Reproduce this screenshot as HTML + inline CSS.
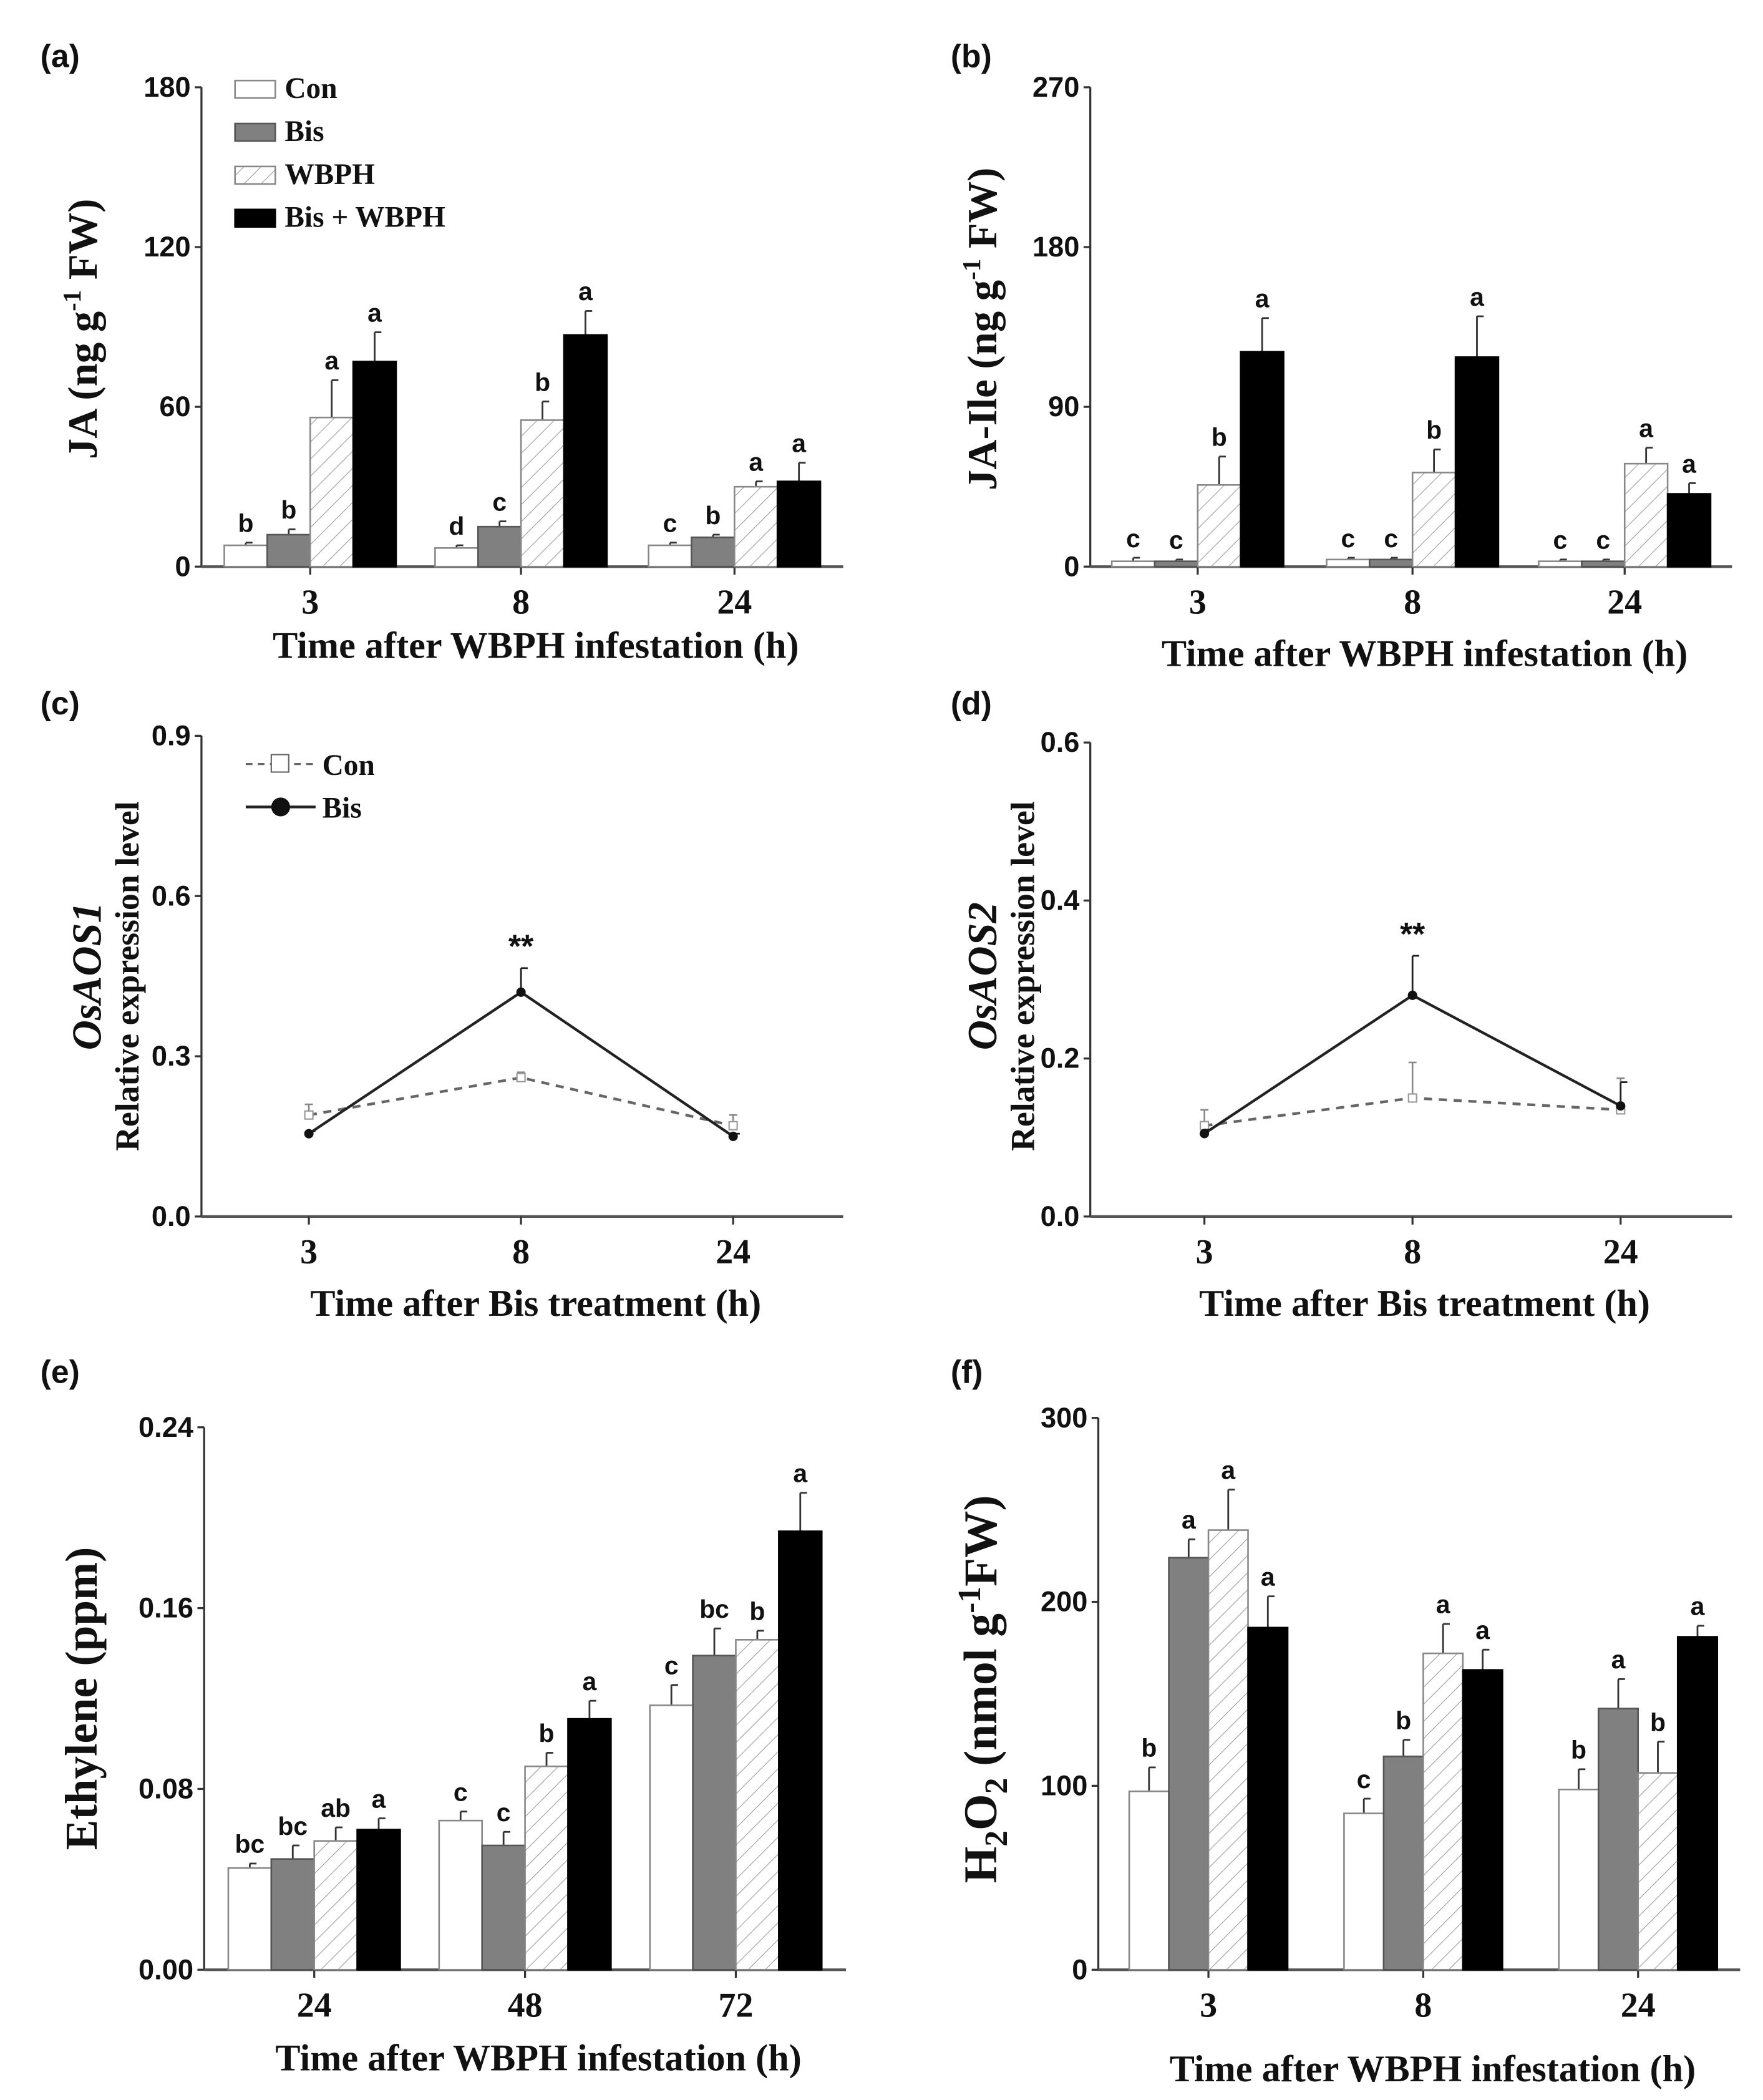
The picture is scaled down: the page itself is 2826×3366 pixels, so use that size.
<!DOCTYPE html>
<html><head><meta charset="utf-8">
<style>
html,body{margin:0;padding:0;background:#fff;}
svg{display:block;}
.tick{font-family:"Liberation Sans",sans-serif;font-weight:bold;font-size:21px;fill:#111;}
.xl{font-family:"Liberation Serif",serif;font-weight:bold;font-size:26px;fill:#111;}
.tt{font-family:"Liberation Serif",serif;font-weight:bold;font-size:28px;fill:#111;}
.let{font-family:"Liberation Sans",sans-serif;font-weight:bold;font-size:19px;fill:#111;}
.pl{font-family:"Liberation Sans",sans-serif;font-weight:bold;font-size:24px;fill:#111;}
.leg{font-family:"Liberation Serif",serif;font-weight:bold;font-size:22px;fill:#111;}
</style></head>
<body>
<svg id="fig" width="2826" height="3366" viewBox="0 0 1313 1564" xmlns="http://www.w3.org/2000/svg">
<defs>
<pattern id="hatch" patternUnits="userSpaceOnUse" width="9" height="9" patternTransform="rotate(45)">
<rect width="9" height="9" fill="#fff"/><line x1="0" y1="0" x2="0" y2="9" stroke="#999" stroke-width="1"/>
</pattern>
</defs>
<g id="root"></g>
</svg>
<script>
// ---- data ----
const barSeries = ["Con","Bis","WBPH","Bis + WBPH"];
const aCats = ["3","8","24"];
const aCon = [8,7,8]; const aBis = [12,15,11]; const aWBPH = [56,55,30]; const aBW = [77,87,32];
const aConE = [1,1,1]; const aBisE = [2,2,1]; const aWBPHE = [14,7,2]; const aBWE = [11,9,7];
const aLetters = [["b","b","a","a"],["d","c","b","a"],["c","b","a","a"]];
const aTicks = [0,60,120,180];

const bCats = ["3","8","24"];
const bCon = [3,4,3]; const bBis = [3,4,3]; const bWBPH = [46,53,58]; const bBW = [121,118,41];
const bConE = [2,1,1]; const bBisE = [1,1,1]; const bWBPHE = [16,13,9]; const bBWE = [19,23,6];
const bLetters = [["c","c","b","a"],["c","c","b","a"],["c","c","a","a"]];
const bTicks = [0,90,180,270];

const cCats = ["3","8","24"];
const cCon = [0.19,0.26,0.17]; const cConE = [0.02,0.01,0.02];
const cBis = [0.155,0.42,0.15]; const cBisE = [0.005,0.045,0.005];
const cTicks = [0.0,0.3,0.6,0.9];

const dCats = ["3","8","24"];
const dCon = [0.115,0.15,0.135]; const dConE = [0.02,0.045,0.04];
const dBis = [0.105,0.28,0.14]; const dBisE = [0.005,0.05,0.03];
const dTicks = [0.0,0.2,0.4,0.6];

const eCats = ["24","48","72"];
const eCon = [0.045,0.066,0.117]; const eBis = [0.049,0.055,0.139]; const eWBPH = [0.057,0.090,0.146]; const eBW = [0.062,0.111,0.194];
const eConE = [0.002,0.004,0.009]; const eBisE = [0.006,0.006,0.012]; const eWBPHE = [0.006,0.006,0.004]; const eBWE = [0.005,0.008,0.017];
const eLetters = [["bc","bc","ab","a"],["c","c","b","a"],["c","bc","b","a"]];
const eTicks = [0.00,0.08,0.16,0.24];

const fCats = ["3","8","24"];
const fCon = [97,85,98]; const fBis = [224,116,142]; const fWBPH = [239,172,107]; const fBW = [186,163,181];
const fConE = [13,8,11]; const fBisE = [10,9,16]; const fWBPHE = [22,16,17]; const fBWE = [17,11,6];
const fLetters = [["b","a","a","a"],["c","b","a","a"],["b","a","b","a"]];
const fTicks = [0,100,200,300];

// ---- drawing ----
const NS="http://www.w3.org/2000/svg";
const root=document.getElementById('root');
function mk(tag,attrs,parent,text){const e=document.createElementNS(NS,tag);for(const k in attrs)e.setAttribute(k,attrs[k]);if(text!==undefined)e.textContent=text;(parent||root).appendChild(e);return e;}
const fills=["#fff","#808080","url(#hatch)","#000"];
const strokes=["#888","#555","#888","#000"];

function axes(g,p,ticks,fmt,cats,xTitle,titleY){
  const ys=v=>p.y0-(v-p.vmin)/(p.vmax-p.vmin)*(p.y0-p.yTop);
  const yAx=mk('line',{x1:p.x0,y1:p.yTop,x2:p.x0,y2:p.y0,stroke:'#333','stroke-width':1.5},g);
  
  
  const xAx=mk('line',{x1:p.x0,y1:p.y0,x2:p.x1,y2:p.y0,stroke:'#555','stroke-width':2},g);
  
  
  ticks.forEach(t=>{
    const y=ys(t);
    mk('line',{x1:p.x0-5,y1:y,x2:p.x0,y2:y,stroke:'#333','stroke-width':1.5},g);
    const tl=mk('text',{x:p.x0-8,y:y+7,'text-anchor':'end',class:'tick'},g,fmt(t));
    
    
  });
  cats.forEach((c,i)=>{
    const x=p.cx[i];
    mk('line',{x1:x,y1:p.y0,x2:x,y2:p.y0+6,stroke:'#333','stroke-width':1.5},g);
    const xl=mk('text',{x:x,y:p.y0+35,'text-anchor':'middle',class:'xl'},g,c);
    
    
  });
  const xt=mk('text',{x:(p.x0+p.x1)/2+10,y:titleY,'text-anchor':'middle',class:'tt'},g,xTitle);
  
  
  return ys;
}

function barPanel(p,series,errs,letters,ticks,fmt,cats,xTitle,titleY){
  const g=mk('g',{},root);
  
  
  const ys=axes(g,p,ticks,fmt,cats,xTitle,titleY);
  cats.forEach((c,i)=>{
    series.forEach((s,j)=>{
      const x=p.cx[i]-2*p.bw+j*p.bw;
      const v=s[i], e=errs[j][i];
      const top=ys(v), etop=ys(v+e);
      const xm=x+p.bw/2;
      const eb=mk('line',{x1:xm,y1:top,x2:xm,y2:etop,stroke:'#333','stroke-width':1.3},g);
      
      
      mk('line',{x1:xm,y1:etop,x2:xm+5,y2:etop,stroke:'#333','stroke-width':1.3},g);
      const r=mk('rect',{x:x,y:top,width:p.bw,height:p.y0-top,fill:fills[j],stroke:strokes[j],'stroke-width':1.2},g);
      
      
      const l=mk('text',{x:xm,y:etop-8,'text-anchor':'middle',class:'let'},g,letters[i][j]);
      
      
    });
  });
  return g;
}

function linePanel(p,con,conE,bis,bisE,ticks,fmt,cats,xTitle,titleY,starIdx){
  const g=mk('g',{},root);
  
  
  const ys=axes(g,p,ticks,fmt,cats,xTitle,titleY);
  const ptsC=con.map((v,i)=>p.cx[i]+','+ys(v)).join(' ');
  const ptsB=bis.map((v,i)=>p.cx[i]+','+ys(v)).join(' ');
  con.forEach((v,i)=>{const x=p.cx[i];mk('line',{x1:x,y1:ys(v),x2:x,y2:ys(v+conE[i]),stroke:'#888','stroke-width':1.2},g);mk('line',{x1:x-3,y1:ys(v+conE[i]),x2:x+3,y2:ys(v+conE[i]),stroke:'#888','stroke-width':1.2},g);});
  const lc=mk('polyline',{points:ptsC,fill:'none',stroke:'#666','stroke-width':2,'stroke-dasharray':'6,5'},g);
  
  
  con.forEach((v,i)=>{const m=mk('rect',{x:p.cx[i]-3,y:ys(v)-3,width:6,height:6,fill:'#fff',stroke:'#999','stroke-width':1},g);
    
    });
  bis.forEach((v,i)=>{const x=p.cx[i];mk('line',{x1:x,y1:ys(v),x2:x,y2:ys(v+bisE[i]),stroke:'#222','stroke-width':1.3},g);mk('line',{x1:x,y1:ys(v+bisE[i]),x2:x+5,y2:ys(v+bisE[i]),stroke:'#222','stroke-width':1.3},g);});
  const lb=mk('polyline',{points:ptsB,fill:'none',stroke:'#222','stroke-width':2},g);
  
  
  bis.forEach((v,i)=>{const m=mk('circle',{cx:p.cx[i],cy:ys(v),r:3.5,fill:'#111'},g);
    
    });
  const s=mk('text',{x:p.cx[starIdx],y:ys(bis[starIdx]+bisE[starIdx])-8,'text-anchor':'middle',class:'pl'},g,'**');
  
  
  return g;
}

function rotText(x,y,size,parts,name){
  const t=mk('text',{transform:'translate('+x+','+y+') rotate(-90)','text-anchor':'middle','font-family':'"Liberation Serif",serif','font-weight':'bold','font-size':size,fill:'#111'});
  
  
  parts.forEach(pt=>{mk('tspan',pt.a||{},t,pt.t);});
  return t;
}
function panelLabel(x,y,s){const t=mk('text',{x:x,y:y,class:'pl'},root,s);
  
  }

const f0=v=>String(v), f1=v=>v.toFixed(1), f2=v=>v.toFixed(2);

// (a)
barPanel({name:'panel-a-ja',x0:150,x1:628,yTop:65,y0:422,vmin:0,vmax:180,cx:[231,388,547],bw:32},
  [aCon,aBis,aWBPH,aBW],[aConE,aBisE,aWBPHE,aBWE],aLetters,aTicks,f0,aCats,'Time after WBPH infestation (h)',490);
const lg=mk('g',{},root);


barSeries.forEach((s,j)=>{
  const y=66+j*32;
  const r=mk('rect',{x:175,y:y-6,width:30,height:13,fill:fills[j],stroke:strokes[j],'stroke-width':1.2},lg);
  
  
  const t=mk('text',{x:212,y:y+7,class:'leg'},lg,s==='Bis + WBPH'?'Bis  + WBPH':s);
  
  
});
panelLabel(30,50,'(a)');
rotText(72,245,31,[{t:'JA (ng g'},{t:'-1',a:{dy:-12,'font-size':19}},{t:' FW)',a:{dy:12}}],'y-axis-title');

// (b)
barPanel({name:'panel-b-ja-ile',x0:812,x1:1290,yTop:65,y0:422,vmin:0,vmax:270,cx:[892,1052,1210],bw:32},
  [bCon,bBis,bWBPH,bBW],[bConE,bBisE,bWBPHE,bBWE],bLetters,bTicks,f0,bCats,'Time after WBPH infestation (h)',496);
panelLabel(708,50,'(b)');
rotText(742,245,31,[{t:'JA-Ile (ng g'},{t:'-1',a:{dy:-12,'font-size':19}},{t:' FW)',a:{dy:12}}],'y-axis-title');

// (c)
linePanel({name:'panel-c-osaos1',x0:150,x1:628,yTop:548,y0:906,vmin:0,vmax:0.9,cx:[230,388,546]},
  cCon,cConE,cBis,cBisE,cTicks,f1,cCats,'Time after Bis treatment (h)',980,1);
panelLabel(30,532,'(c)');
rotText(75,727,31,[{t:'OsAOS1',a:{'font-style':'italic'}}],'y-axis-title-gene');
rotText(103,727,25,[{t:'Relative expression level'}],'y-axis-title');
const lgc=mk('g',{},root);


mk('line',{x1:183,y1:569,x2:235,y2:569,stroke:'#666','stroke-width':1.5,'stroke-dasharray':'5,4'},lgc);
mk('rect',{x:202,y:562,width:13,height:13,fill:'#fff',stroke:'#666'},lgc);
const lc1=mk('text',{x:240,y:577,class:'leg'},lgc,'Con');


mk('line',{x1:183,y1:601,x2:235,y2:601,stroke:'#222','stroke-width':2},lgc);
mk('circle',{cx:209,cy:601,r:7,fill:'#111'},lgc);
const lc2=mk('text',{x:240,y:609,class:'leg'},lgc,'Bis');



// (d)
linePanel({name:'panel-d-osaos2',x0:812,x1:1290,yTop:553,y0:906,vmin:0,vmax:0.6,cx:[897,1052,1207]},
  dCon,dConE,dBis,dBisE,dTicks,f1,dCats,'Time after Bis treatment (h)',980,1);
panelLabel(708,532,'(d)');
rotText(742,727,31,[{t:'OsAOS2',a:{'font-style':'italic'}}],'y-axis-title-gene');
rotText(770,727,25,[{t:'Relative expression level'}],'y-axis-title');

// (e)
barPanel({name:'panel-e-ethylene',x0:152,x1:630,yTop:1063,y0:1467,vmin:0,vmax:0.24,cx:[234,391,548],bw:32},
  [eCon,eBis,eWBPH,eBW],[eConE,eBisE,eWBPHE,eBWE],eLetters,eTicks,f2,eCats,'Time after WBPH infestation (h)',1542);
panelLabel(30,1030,'(e)');
rotText(72,1265,34,[{t:'Ethylene (ppm)'}],'y-axis-title');

// (f)
barPanel({name:'panel-f-h2o2',x0:818,x1:1296,yTop:1056,y0:1467,vmin:0,vmax:300,cx:[900,1060,1220],bw:29.5},
  [fCon,fBis,fWBPH,fBW],[fConE,fBisE,fWBPHE,fBWE],fLetters,fTicks,f0,fCats,'Time after WBPH infestation (h)',1550);
panelLabel(708,1030,'(f)');
rotText(742,1258,35,[{t:'H'},{t:'2',a:{dy:8,'font-size':24}},{t:'O',a:{dy:-8}},{t:'2',a:{dy:8,'font-size':24}},{t:' (nmol g',a:{dy:-8}},{t:'-1',a:{dy:-12,'font-size':24}},{t:'FW)',a:{dy:12}}],'y-axis-title');
</script>
</body></html>
